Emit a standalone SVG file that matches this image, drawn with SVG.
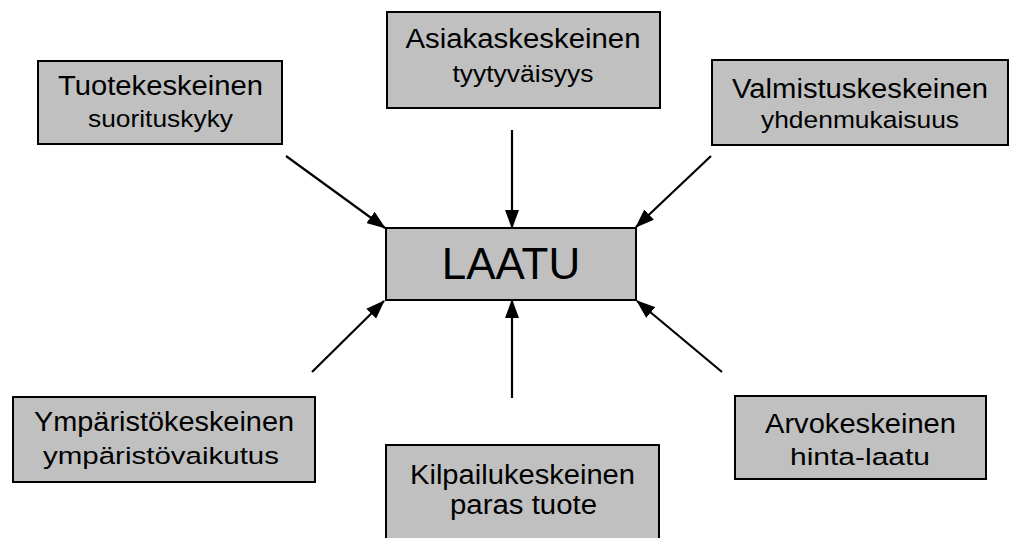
<svg xmlns="http://www.w3.org/2000/svg" width="1014" height="538" viewBox="0 0 1014 538">
<style>
.box{fill:#c0c0c0;stroke:#000;stroke-width:2}
.t1{font-family:"Liberation Sans",Arial,sans-serif;font-size:27px;fill:#000;text-anchor:middle}
.t2{font-family:"Liberation Sans",Arial,sans-serif;font-size:24.5px;fill:#000;text-anchor:middle}
.big{font-family:"Liberation Sans",Arial,sans-serif;font-size:44px;fill:#000;text-anchor:middle}
.conn{stroke:#000;stroke-width:2.2;fill:none;marker-end:url(#ah)}
</style>
<defs>
<marker id="ah" markerUnits="userSpaceOnUse" markerWidth="19" markerHeight="14" refX="18" refY="7" orient="auto">
<path d="M0,0 L19,7 L0,14 z" fill="#000"/>
</marker>
</defs>
<rect width="1014" height="538" fill="#fff"/>
<g id="connectors">
<line class="conn" x1="286" y1="156" x2="385" y2="228"/>
<line class="conn" x1="512" y1="130" x2="512" y2="228"/>
<line class="conn" x1="711" y1="156" x2="636" y2="227"/>
<line class="conn" x1="312" y1="372" x2="384" y2="301"/>
<line class="conn" x1="512" y1="398" x2="512" y2="300"/>
<line class="conn" x1="722" y1="372" x2="637" y2="301"/>
</g>
<g id="laatu">
<rect class="box" x="386" y="228" width="250" height="72"/>
<text class="big" x="511" y="279">LAATU</text>
</g>
<g id="tuotekeskeinen">
<rect class="box" x="38" y="61" width="244" height="83"/>
<text class="t1" x="160.5" y="95" textLength="205" lengthAdjust="spacingAndGlyphs">Tuotekeskeinen</text>
<text class="t2" x="160.5" y="127" textLength="145" lengthAdjust="spacingAndGlyphs">suorituskyky</text>
</g>
<g id="asiakaskeskeinen">
<rect class="box" x="387" y="12" width="273" height="96"/>
<text class="t1" x="523" y="48" textLength="235" lengthAdjust="spacingAndGlyphs">Asiakaskeskeinen</text>
<text class="t2" x="523" y="82" textLength="141" lengthAdjust="spacingAndGlyphs">tyytyväisyys</text>
</g>
<g id="valmistuskeskeinen">
<rect class="box" x="712" y="60" width="296" height="85"/>
<text class="t1" x="860" y="98" textLength="256" lengthAdjust="spacingAndGlyphs">Valmistuskeskeinen</text>
<text class="t2" x="860" y="128" textLength="198" lengthAdjust="spacingAndGlyphs">yhdenmukaisuus</text>
</g>
<g id="ymparistokeskeinen">
<rect class="box" x="13" y="397" width="302" height="85"/>
<text class="t1" x="164" y="431" textLength="260" lengthAdjust="spacingAndGlyphs">Ympäristökeskeinen</text>
<text class="t2" x="161" y="464" textLength="236" lengthAdjust="spacingAndGlyphs">ympäristövaikutus</text>
</g>
<g id="kilpailukeskeinen">
<rect class="box" x="386" y="445" width="273" height="100"/>
<text class="t1" x="522.5" y="484" textLength="225" lengthAdjust="spacingAndGlyphs">Kilpailukeskeinen</text>
<text class="t1" x="523.5" y="514" textLength="147" lengthAdjust="spacingAndGlyphs">paras tuote</text>
</g>
<g id="arvokeskeinen">
<rect class="box" x="735" y="396" width="251" height="83"/>
<text class="t1" x="860.5" y="433" textLength="191" lengthAdjust="spacingAndGlyphs">Arvokeskeinen</text>
<text class="t2" x="860" y="465" textLength="140" lengthAdjust="spacingAndGlyphs">hinta-laatu</text>
</g>
</svg>
